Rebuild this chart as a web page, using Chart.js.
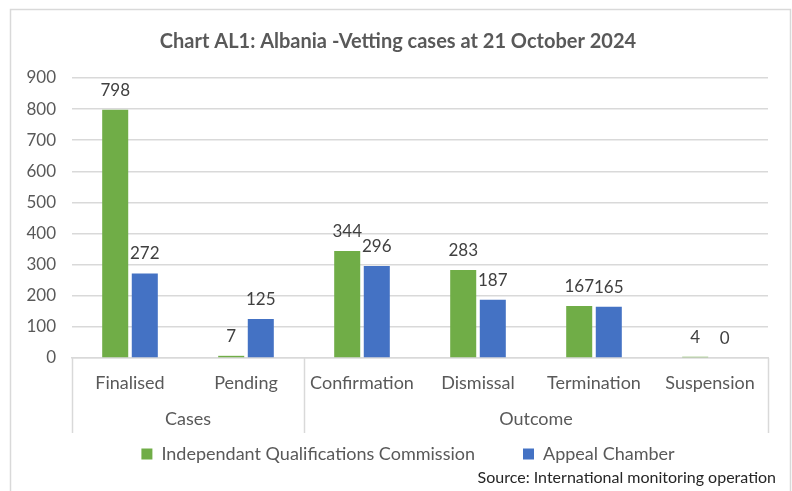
<!DOCTYPE html>
<html>
<head>
<meta charset="utf-8">
<script src="https://cdn.jsdelivr.net/npm/chart.js@4.4.1/dist/chart.umd.min.js"></script>
<style>
  html, body { margin: 0; padding: 0; background: #ffffff; }
  #wrap { width: 792px; height: 491px; position: relative; }
</style>
</head>
<body>
<div id="wrap"><canvas id="c" width="792" height="491"></canvas></div>
<script>
const titleText = 'Chart AL1: Albania -Vetting cases at 21 October 2024';
const sourceText = 'Source: International monitoring operation';
const categories = ['Finalised', 'Pending', 'Confirmation', 'Dismissal', 'Termination', 'Suspension'];
const groupLabels = ['Cases', 'Outcome'];
const groupSpans = [2, 4];
const seriesNames = ['Independant Qualifications Commission', 'Appeal Chamber'];
const iqcValues = [798, 7, 344, 283, 167, 4];
const appealValues = [272, 125, 296, 187, 165, 0];
const yTicks = [0, 100, 200, 300, 400, 500, 600, 700, 800, 900];

const FONT = 'Lato, "Open Sans", sans-serif';
const TXT = '#595959';
const GRID = '#d9d9d9';

const frame = {
  id: 'frame',
  afterLayout(chart) {
    // nudge title and legend so they are centred like the original
    if (chart.titleBlock) { chart.titleBlock.left += 4; chart.titleBlock.right += 4; }
    if (chart.legend) { chart.legend.left += 14; chart.legend.right += 14; }
  },
  beforeDraw(chart) {
    const ctx = chart.ctx;
    ctx.save();
    ctx.fillStyle = '#ffffff';
    ctx.fillRect(0, 0, chart.width, chart.height);
    ctx.strokeStyle = '#d9d9d9';
    ctx.lineWidth = 1.5;
    ctx.strokeRect(10.5, 9.5, chart.width - 12, chart.height + 20);
    ctx.restore();
  }
};

const valueLabels = {
  id: 'valueLabels',
  afterDatasetsDraw(chart) {
    const ctx = chart.ctx;
    ctx.save();
    ctx.font = '17px ' + FONT;
    ctx.fillStyle = '#404040';
    ctx.textAlign = 'center';
    ctx.textBaseline = 'bottom';
    chart.data.datasets.forEach((ds, di) => {
      const meta = chart.getDatasetMeta(di);
      meta.data.forEach((bar, i) => {
        ctx.fillText(String(ds.data[i]), bar.x, bar.y - 11);
      });
    });
    ctx.restore();
  }
};

const groupAxis = {
  id: 'groupAxis',
  afterDraw(chart) {
    const xs = chart.scales.x;
    const ctx = chart.ctx;
    const half = (xs.getPixelForValue(1) - xs.getPixelForValue(0)) / 2;
    const top = chart.chartArea.bottom;
    const bottom = top + 75;
    ctx.save();
    ctx.strokeStyle = GRID;
    ctx.lineWidth = 1.5;
    ctx.font = '18px ' + FONT;
    ctx.fillStyle = TXT;
    ctx.textAlign = 'center';
    ctx.textBaseline = 'middle';
    let start = 0;
    const drawLine = (x) => {
      ctx.beginPath();
      ctx.moveTo(Math.round(x) + 0.5, top);
      ctx.lineTo(Math.round(x) + 0.5, bottom);
      ctx.stroke();
    };
    drawLine(xs.getPixelForValue(0) - half);
    groupLabels.forEach((g, gi) => {
      const end = start + groupSpans[gi] - 1;
      const x0 = xs.getPixelForValue(start) - half;
      const x1 = xs.getPixelForValue(end) + half;
      drawLine(x1);
      ctx.fillText(g, (x0 + x1) / 2, top + 61);
      start = end + 1;
    });
    // source note
    ctx.font = '16px ' + FONT;
    ctx.fillStyle = '#262626';
    ctx.textAlign = 'right';
    ctx.fillText(sourceText, chart.width - 16, chart.height - 13);
    ctx.restore();
  }
};

new Chart(document.getElementById('c'), {
  type: 'bar',
  data: {
    labels: categories,
    datasets: [
      { label: seriesNames[0], data: iqcValues, backgroundColor: '#70AD47', barPercentage: 0.88, categoryPercentage: 0.51 },
      { label: seriesNames[1], data: appealValues, backgroundColor: '#4472C4', barPercentage: 0.88, categoryPercentage: 0.51 }
    ]
  },
  options: {
    responsive: false,
    animation: false,
    devicePixelRatio: 1,
    layout: { padding: { left: 20, right: 24, top: 0, bottom: 18 } },
    plugins: {
      title: {
        display: true,
        text: titleText,
        color: TXT,
        font: { family: FONT, size: 20, weight: 'bold' },
        padding: { top: 30, bottom: 24 }
      },
      legend: {
        position: 'bottom',
        labels: {
          color: TXT,
          font: { family: FONT, size: 18 },
          boxWidth: 11,
          boxHeight: 11,
          padding: 12,
          generateLabels(chart) {
            const items = Chart.defaults.plugins.legend.labels.generateLabels(chart);
            items.forEach((it, i) => { if (i < items.length - 1) it.text = it.text + '\u2003\u2003\u2002'; });
            return items;
          }
        }
      },
      tooltip: { enabled: false }
    },
    scales: {
      x: {
        grid: { display: false, drawTicks: false },
        border: { display: true, color: GRID, width: 1.5 },
        ticks: { color: TXT, font: { family: FONT, size: 18 }, padding: 14, maxRotation: 0 },
        afterFit(s) { s.height = 75; }
      },
      y: {
        min: 0,
        max: 900,
        afterBuildTicks(s) { s.ticks = yTicks.map(v => ({ value: v })); },
        grid: { color: GRID, lineWidth: 1.5, drawTicks: false },
        border: { display: false },
        ticks: { color: TXT, font: { family: FONT, size: 17 }, padding: 16 },
        afterFit(s) { s.width = 52; }
      }
    }
  },
  plugins: [frame, valueLabels, groupAxis]
});
</script>
</body>
</html>
